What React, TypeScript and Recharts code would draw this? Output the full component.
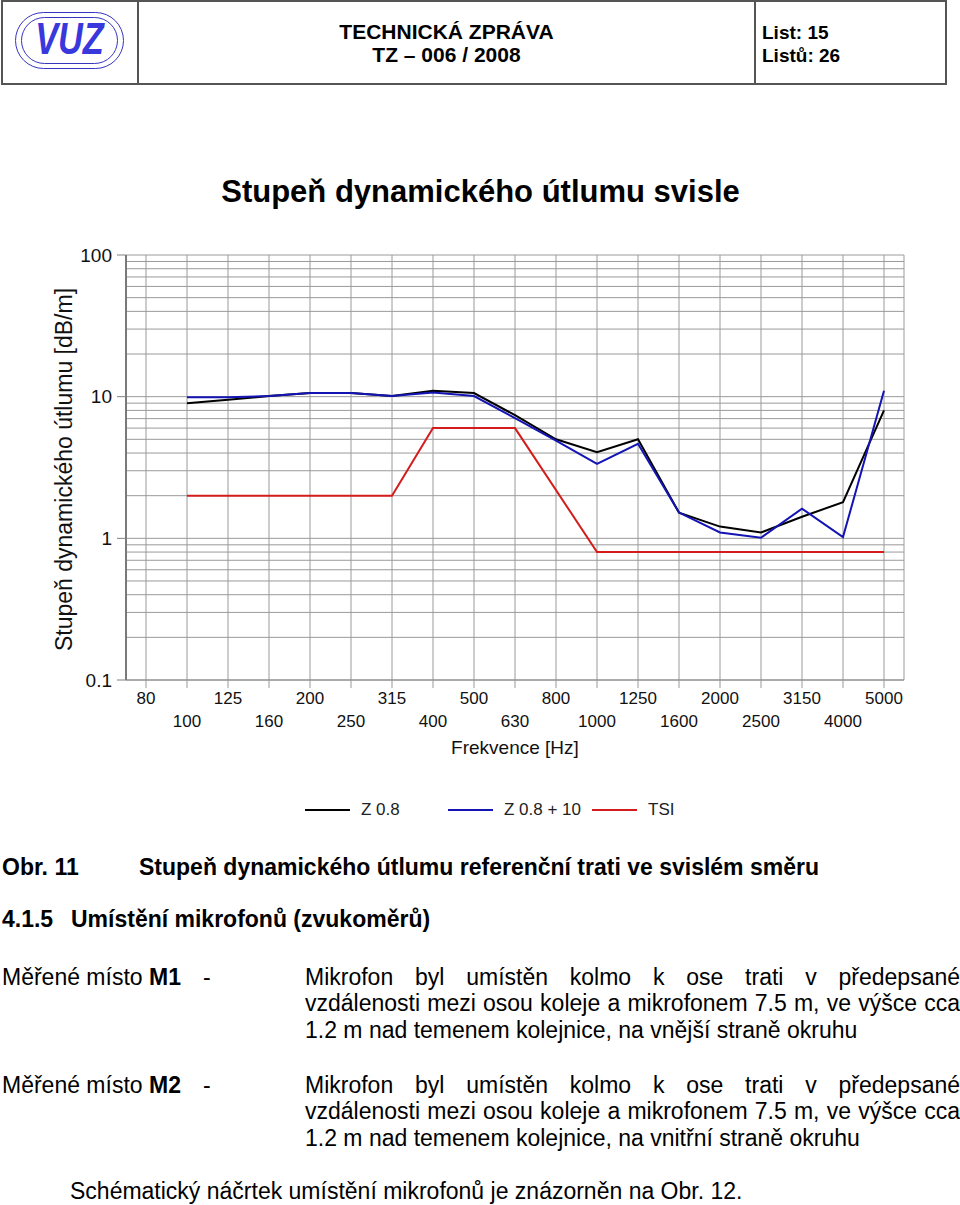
import React from 'react';
import { LineChart, Line, XAxis, YAxis, CartesianGrid, Legend } from 'recharts';

// third-octave bands, Hz
const freqs = ['80', '100', '125', '160', '200', '250', '315', '400', '500', '630', '800', '1000', '1250', '1600', '2000', '2500', '3150', '4000', '5000'];

// dB/m (null = no value at that band)
const z08 = [null, 9.0, 9.5, 10.1, 10.6, 10.6, 10.1, 11.0, 10.6, 7.4, 5.0, 4.05, 5.0, 1.52, 1.21, 1.1, 1.42, 1.8, 8.0];
const z08p10 = [null, 9.9, 9.9, 10.1, 10.6, 10.6, 10.1, 10.7, 10.1, 7.05, 4.9, 3.35, 4.65, 1.52, 1.1, 1.01, 1.62, 1.02, 11.0];
const tsi = [null, 2, 2, 2, 2, 2, 2, 6, 6, 6, null, 0.8, 0.8, 0.8, 0.8, 0.8, 0.8, 0.8, 0.8];

const yTicks = [0.1, 0.2, 0.3, 0.4, 0.5, 0.6, 0.7, 0.8, 0.9, 1, 2, 3, 4, 5, 6, 7, 8, 9, 10, 20, 30, 40, 50, 60, 70, 80, 90, 100];
const yLabels = [0.1, 1, 10, 100];

const series = [
  { key: 'z08', name: 'Z 0.8', color: '#000000' },
  { key: 'z08p10', name: 'Z 0.8 + 10', color: '#1414b4' },
  { key: 'tsi', name: 'TSI', color: '#d41c1c' },
];

const data = freqs.map((f, i) => ({ f, z08: z08[i], z08p10: z08p10[i], tsi: tsi[i] }));

const FONT = '"Liberation Sans", Arial, Helvetica, sans-serif';
const legendX = [305, 448, 592];

const XTick = (props: any) => {
  const { x, y, payload } = props;
  const i = freqs.indexOf(String(payload.value));
  return (
    <text x={x} y={y + (i % 2 ? 33 : 10)} textAnchor="middle" dominantBaseline="central" fontSize={17} fontFamily={FONT} fill="#111">
      {payload.value}
    </text>
  );
};

const YTick = (props: any) => {
  const { x, y, payload } = props;
  if (!yLabels.includes(payload.value)) return <g />;
  return (
    <g>
      <line x1={x - 9} x2={x} y1={y} y2={y} stroke="#808080" />
      <text x={x - 14} y={y} textAnchor="end" dominantBaseline="central" fontSize={19} fontFamily={FONT} fill="#111">
        {String(payload.value)}
      </text>
    </g>
  );
};

const renderLegend = (props: any) => {
  const payload = props.payload || [];
  return (
    <div style={{ position: 'relative', width: 904, height: 40, fontFamily: FONT }}>
      {series.map((s, i) => {
        const e = payload.find((p: any) => p.dataKey === s.key) || { value: s.name, color: s.color };
        return (
          <div key={s.key} style={{ position: 'absolute', left: legendX[i], top: 0, height: 40, display: 'flex', alignItems: 'center' }}>
            <span style={{ display: 'inline-block', width: 45, height: 2, background: e.color }} />
            <span style={{ marginLeft: 11, fontSize: 17, color: '#222' }}>{e.value}</span>
          </div>
        );
      })}
    </div>
  );
};

const Txt = ({ x, y, size, bold, children }: any) => (
  <div
    style={{
      position: 'absolute',
      left: x,
      top: y - Math.round(size * 0.6),
      fontSize: size,
      lineHeight: `${Math.round(size * 1.2)}px`,
      fontWeight: bold ? 'bold' : 'normal',
      whiteSpace: 'nowrap',
    }}
  >
    {children}
  </div>
);

const JLine = ({ y, last, children }: any) => (
  <div
    style={{
      position: 'absolute',
      left: 305,
      width: 655,
      top: y - 14,
      fontSize: 23,
      lineHeight: '28px',
      whiteSpace: 'nowrap',
      textAlign: last ? 'left' : 'justify',
      textAlignLast: last ? 'left' : 'justify',
    }}
  >
    {children}
  </div>
);

const App = () => {
  return (
    <div style={{ position: 'absolute', left: 0, top: 0, width: 960, height: 1205, background: '#fff', fontFamily: FONT, color: '#000', overflow: 'hidden' }}>
      {/* header table */}
      <div style={{ position: 'absolute', left: 1, top: 0, width: 946, height: 85, border: '2px solid #555', boxSizing: 'border-box' }} />
      <div style={{ position: 'absolute', left: 137, top: 0, width: 2, height: 85, background: '#555' }} />
      <div style={{ position: 'absolute', left: 754, top: 0, width: 2, height: 85, background: '#555' }} />
      <div style={{ position: 'absolute', left: 15, top: 12, width: 109, height: 57, border: '1.5px solid #3535c0', borderRadius: 29, boxSizing: 'border-box' }} />
      <div style={{ position: 'absolute', left: 21, top: 17, width: 97, height: 47, border: '1.5px solid #3535c0', borderRadius: 24, boxSizing: 'border-box' }} />
      <div
        style={{
          position: 'absolute', left: 15, top: 14, width: 109, textAlign: 'center', fontSize: 44, lineHeight: '50px',
          fontWeight: 'bold', fontStyle: 'italic', color: '#3838dc', transform: 'scaleX(0.78)',
        }}
      >
        VUZ
      </div>
      <div style={{ position: 'absolute', left: 139, width: 615, top: 20, textAlign: 'center', fontSize: 21, lineHeight: '24px', fontWeight: 'bold' }}>
        TECHNICKÁ ZPRÁVA
      </div>
      <div style={{ position: 'absolute', left: 139, width: 615, top: 43, textAlign: 'center', fontSize: 21, lineHeight: '24px', fontWeight: 'bold' }}>
        TZ – 006 / 2008
      </div>
      <Txt x={762} y={32} size={19} bold>List: 15</Txt>
      <Txt x={762} y={55} size={19} bold>Listů: 26</Txt>

      {/* chart title */}
      <div style={{ position: 'absolute', left: 0, width: 961, top: 173, textAlign: 'center', fontSize: 31, lineHeight: '38px', fontWeight: 'bold' }}>
        Stupeň dynamického útlumu svisle
      </div>

      <div style={{ position: 'absolute', left: 0, top: 160 }}>
        <LineChart width={960} height={670} data={data} margin={{ top: 95, right: 56, bottom: 0, left: 0 }}>
          <CartesianGrid stroke="#9a9a9a" strokeWidth={1} />
          <XAxis
            dataKey="f"
            scale="point"
            interval={0}
            padding={{ left: 20, right: 20 }}
            height={110}
            tickSize={8}
            tickMargin={0}
            tickLine={{ stroke: '#999' }}
            axisLine={{ stroke: '#888' }}
            tick={<XTick />}
            label={{
              content: (p: any) => (
                <text x={p.viewBox.x + p.viewBox.width / 2} y={p.viewBox.y + 67} textAnchor="middle" dominantBaseline="central" fontSize={19} fontFamily={FONT} fill="#111">
                  Frekvence [Hz]
                </text>
              ),
            }}
          />
          <YAxis
            type="number"
            scale="log"
            domain={[0.1, 100]}
            allowDataOverflow
            ticks={yTicks}
            interval={0}
            width={126}
            tickSize={0}
            tickMargin={0}
            tickLine={false}
            axisLine={{ stroke: '#7a7a7a', strokeWidth: 2 }}
            tick={<YTick />}
            label={{
              content: (p: any) => {
                const cx = p.viewBox.x + 64;
                const cy = p.viewBox.y + p.viewBox.height / 2 + 2;
                return (
                  <text x={cx} y={cy} transform={`rotate(-90 ${cx} ${cy})`} textAnchor="middle" dominantBaseline="central" fontSize={23} fontFamily={FONT} fill="#111">
                    Stupeň dynamického útlumu [dB/m]
                  </text>
                );
              },
            }}
          />
          <YAxis yAxisId="r" orientation="right" type="number" scale="log" domain={[0.1, 100]} allowDataOverflow width={0} tick={false} tickLine={false} axisLine={{ stroke: '#9a9a9a' }} />
          <Legend verticalAlign="bottom" height={40} content={renderLegend} />
          {series.map((s) => (
            <Line
              key={s.key}
              type="linear"
              dataKey={s.key}
              name={s.name}
              stroke={s.color}
              strokeWidth={2}
              dot={false}
              activeDot={false}
              connectNulls
              isAnimationActive={false}
            />
          ))}
        </LineChart>
      </div>

      {/* caption and text */}
      <Txt x={2} y={867} size={23} bold>Obr. 11</Txt>
      <Txt x={139} y={867} size={23} bold>Stupeň dynamického útlumu referenční trati ve svislém směru</Txt>
      <Txt x={2} y={919} size={23} bold>4.1.5</Txt>
      <Txt x={71} y={919} size={23} bold>Umístění mikrofonů (zvukoměrů)</Txt>

      <Txt x={2} y={977} size={23}>Měřené místo <b>M1</b></Txt>
      <Txt x={203} y={977} size={23}>-</Txt>
      <JLine y={977}>Mikrofon byl umístěn kolmo k ose trati v předepsané</JLine>
      <JLine y={1003}>vzdálenosti mezi osou koleje a mikrofonem 7.5 m, ve výšce cca</JLine>
      <JLine y={1030} last>1.2 m nad temenem kolejnice, na vnější straně okruhu</JLine>

      <Txt x={2} y={1085} size={23}>Měřené místo <b>M2</b></Txt>
      <Txt x={203} y={1085} size={23}>-</Txt>
      <JLine y={1085}>Mikrofon byl umístěn kolmo k ose trati v předepsané</JLine>
      <JLine y={1111}>vzdálenosti mezi osou koleje a mikrofonem 7.5 m, ve výšce cca</JLine>
      <JLine y={1138} last>1.2 m nad temenem kolejnice, na vnitřní straně okruhu</JLine>

      <Txt x={70} y={1191} size={23}>Schématický náčrtek umístění mikrofonů je znázorněn na Obr. 12.</Txt>
    </div>
  );
};

export default App;
